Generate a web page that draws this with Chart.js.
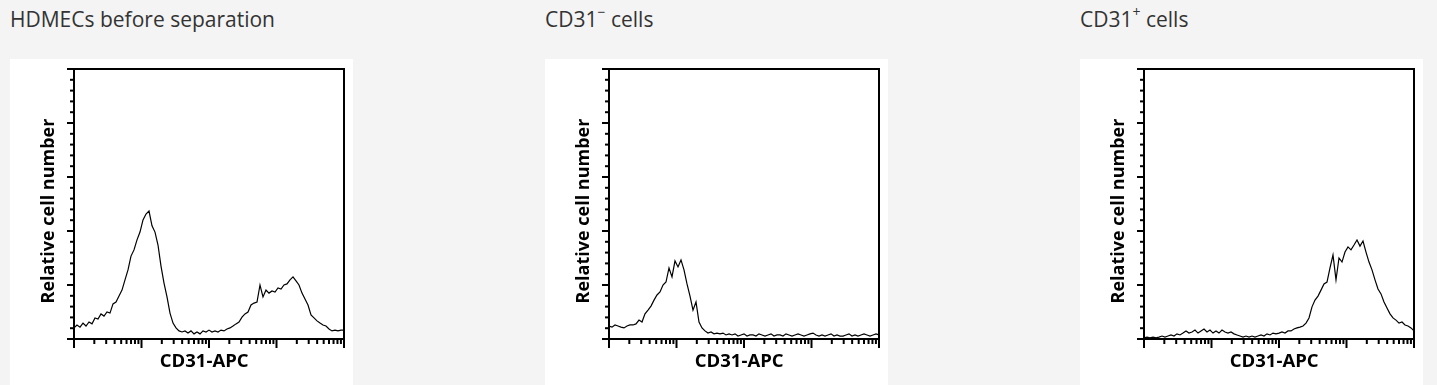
<!DOCTYPE html>
<html>
<head>
<meta charset="utf-8">
<script src="https://cdn.jsdelivr.net/npm/chart.js@4/dist/chart.umd.min.js"></script>
<style>
  html, body { margin: 0; padding: 0; background: #f4f4f4; width: 1437px; height: 385px; overflow: hidden; }
  .title { position: absolute; top: 9px; margin: 0; font-family: "Open Sans", sans-serif; font-weight: 400; font-size: 21px; line-height: 21px; color: #333; white-space: nowrap; }
  .title sup { font-size: 14px; line-height: 0; position: relative; top: -2px; }
  .panel { position: absolute; top: 59px; width: 343px; height: 326px; background: #fff; }
  canvas { display: block; }
</style>
</head>
<body>
<div class="title" style="left:10px">HDMECs before separation</div>
<div class="title" style="left:545px">CD31<sup>−</sup> cells</div>
<div class="title" style="left:1080px">CD31<sup>+</sup> cells</div>
<div class="panel" style="left:10px"><canvas id="c1" width="343" height="326"></canvas></div>
<div class="panel" style="left:545px"><canvas id="c2" width="343" height="326"></canvas></div>
<div class="panel" style="left:1080px"><canvas id="c3" width="343" height="326"></canvas></div>
<script>
// Axis definitions
const X_DECADES = [1, 10, 100, 1000, 10000];
const X_MINOR_MULT = [2, 3, 4, 5, 6, 7, 8, 9];
const Y_MAJOR = [0, 20, 40, 60, 80, 100];
const Y_MINOR = [4, 8, 12, 16, 24, 28, 32, 36, 44, 48, 52, 56, 64, 68, 72, 76, 84, 88, 92, 96];
const X_LABEL = 'CD31-APC';
const Y_LABEL = 'Relative cell number';

// Histogram values (relative cell number per channel)
const HDMEC_BEFORE = [4.1, 5.2, 4.4, 5.9, 4.8, 6.3, 5.6, 7.8, 7.4, 9.3, 8.5, 10.0, 9.6, 13.0, 13.7, 15.9, 18.1, 21.9, 25.6, 30.7,
  33.0, 36.7, 39.6, 44.1, 46.3, 47.4, 41.9, 39.6, 34.8, 27.0, 20.7, 15.6, 9.6, 5.9, 4.1, 3.0, 2.6, 3.0, 2.2, 3.0,
  1.9, 2.6, 1.9, 3.0, 2.6, 3.3, 2.6, 3.0, 2.6, 3.3, 3.0, 3.7, 4.1, 4.8, 5.6, 6.3, 8.1, 9.3, 10.0, 12.6,
  13.3, 13.7, 20.0, 15.6, 18.1, 17.0, 17.8, 17.4, 18.9, 18.5, 20.0, 20.4, 21.9, 23.0, 21.5, 20.0, 17.0, 14.8, 12.6, 8.9,
  7.8, 6.7, 5.9, 5.2, 4.8, 3.7, 3.0, 3.3, 3.0, 3.3, 3.3];
const CD31_NEG = [4.8, 4.4, 5.2, 4.8, 4.4, 4.1, 4.8, 5.2, 5.2, 5.6, 7.0, 6.3, 9.3, 10.7, 12.2, 14.4, 16.3, 17.4, 20.0, 21.1,
  26.3, 23.0, 28.9, 26.7, 29.3, 25.6, 20.4, 15.9, 10.7, 13.7, 6.3, 4.1, 3.0, 2.2, 2.6, 1.9, 2.2, 1.9, 2.2, 1.5,
  1.9, 1.5, 1.9, 1.1, 1.5, 1.9, 1.1, 1.5, 1.5, 1.1, 1.9, 1.5, 1.1, 1.5, 1.9, 1.1, 1.5, 1.5, 1.1, 1.9,
  1.5, 1.1, 1.5, 1.9, 1.5, 1.1, 1.5, 1.9, 2.2, 1.5, 1.1, 1.5, 1.1, 1.5, 1.9, 1.1, 1.5, 1.1, 1.1, 1.5,
  1.9, 1.1, 1.5, 1.1, 1.5, 1.9, 1.5, 1.1, 1.5, 1.9, 1.5];
const CD31_POS = [0.4, 0.7, 0.4, 0.7, 0.4, 0.7, 1.1, 0.7, 1.1, 1.5, 1.1, 1.9, 1.5, 2.2, 3.0, 2.2, 2.6, 3.3, 2.2, 3.0,
  3.7, 2.6, 3.3, 2.2, 3.0, 2.2, 3.3, 2.6, 2.2, 2.6, 1.9, 1.5, 1.1, 0.7, 1.1, 0.7, 1.1, 0.7, 1.1, 1.5,
  1.1, 1.9, 1.5, 2.2, 1.9, 2.2, 2.6, 2.2, 3.0, 3.0, 3.7, 4.1, 4.4, 4.8, 5.9, 7.8, 11.9, 14.4, 15.9, 18.1,
  20.4, 21.1, 26.3, 31.1, 21.9, 30.0, 28.5, 32.2, 34.1, 33.0, 34.8, 36.7, 34.4, 36.3, 32.2, 28.5, 25.6, 21.9, 18.5, 16.7,
  13.7, 11.5, 9.3, 7.8, 7.0, 5.9, 6.3, 5.2, 4.8, 4.1, 3.0];

const frameTicks = {
  id: 'frameTicks',
  afterDraw(chart) {
    const { ctx, chartArea: a, scales: { x, y } } = chart;
    ctx.save();
    ctx.strokeStyle = '#000';
    ctx.lineWidth = 2;
    ctx.strokeRect(a.left, a.top, a.right - a.left, a.bottom - a.top);
    const seg = (x0, y0, x1, y1, w) => { ctx.lineWidth = w; ctx.beginPath(); ctx.moveTo(x0, y0); ctx.lineTo(x1, y1); ctx.stroke(); };
    X_DECADES.forEach(d => {
      const p = x.getPixelForValue(d);
      seg(p, a.bottom, p, a.bottom + 9, 2);
      if (d < X_DECADES[X_DECADES.length - 1]) {
        X_MINOR_MULT.forEach(m => {
          const q = x.getPixelForValue(d * m);
          seg(q, a.bottom, q, a.bottom + 5, 2);
        });
      }
    });
    Y_MAJOR.forEach(v => { const p = y.getPixelForValue(v); seg(a.left - 7, p, a.left, p, 2); });
    Y_MINOR.forEach(v => { const p = y.getPixelForValue(v); seg(a.left - 4, p, a.left, p, 2); });
    ctx.restore();
  }
};

function makeChart(id, values) {
  const pts = values.map((v, i) => ({ x: Math.pow(10, 4 * i / (values.length - 1)), y: v }));
  return new Chart(document.getElementById(id), {
    type: 'line',
    data: { datasets: [{ data: pts, borderColor: '#000', borderWidth: 1.2, pointRadius: 0, tension: 0, fill: false }] },
    options: {
      responsive: false,
      animation: false,
      events: [],
      layout: { padding: { top: 10, right: 9, left: 0, bottom: 0 } },
      plugins: { legend: { display: false }, tooltip: { enabled: false } },
      scales: {
        x: {
          type: 'logarithmic', min: X_DECADES[0], max: X_DECADES[X_DECADES.length - 1],
          ticks: { display: false }, grid: { display: false },
          border: { display: false },
          title: { display: true, text: X_LABEL + '\u00a0\u00a0', color: '#000', font: { family: 'Open Sans', weight: 'bold', size: 18.5 }, padding: { top: 0, bottom: 12 } },
          afterFit: s => { s.height = 46; }
        },
        y: {
          min: Y_MAJOR[0], max: Y_MAJOR[Y_MAJOR.length - 1],
          ticks: { display: false }, grid: { display: false },
          border: { display: false },
          title: { display: true, text: Y_LABEL + '\u00a0\u00a0\u00a0', color: '#000', font: { family: 'Open Sans', weight: 'bold', size: 18 }, padding: { top: 28, bottom: 0 } },
          afterFit: s => { s.width = 64; }
        }
      }
    },
    plugins: [frameTicks]
  });
}

makeChart('c1', HDMEC_BEFORE);
makeChart('c2', CD31_NEG);
makeChart('c3', CD31_POS);
</script>
</body>
</html>
